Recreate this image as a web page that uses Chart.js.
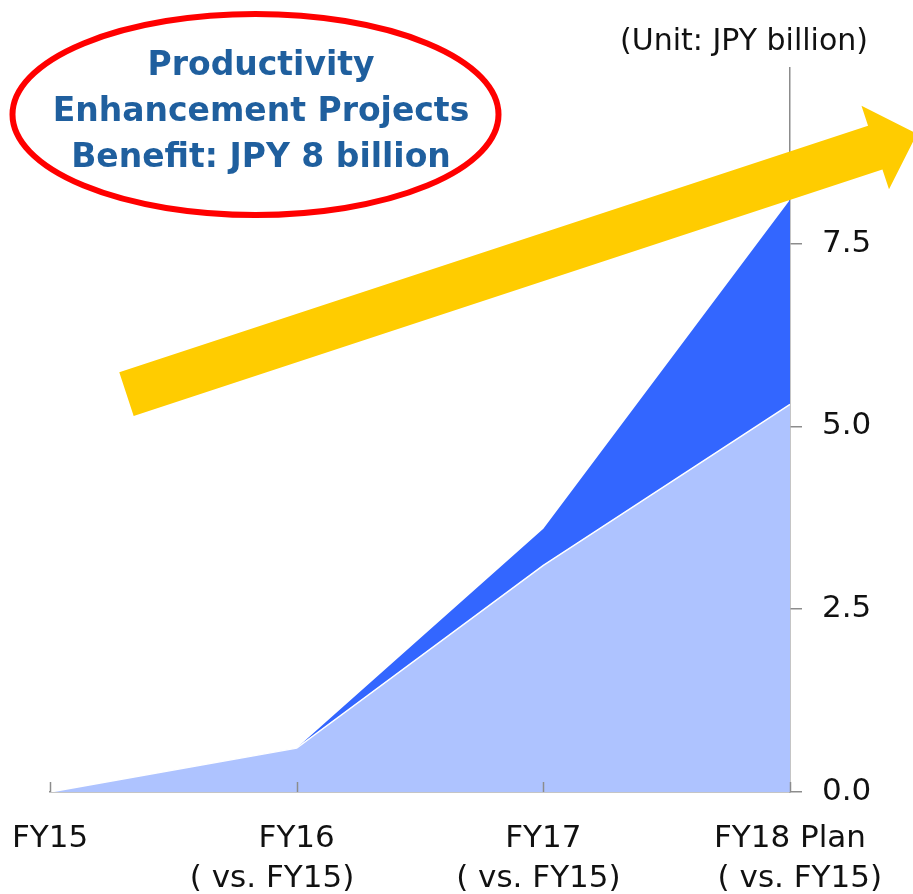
<!DOCTYPE html>
<html>
<head>
<meta charset="utf-8">
<script src="https://cdn.jsdelivr.net/npm/chart.js@4"></script>
<style>
  html, body { margin: 0; padding: 0; background: #fff; }
  #wrap { position: relative; width: 913px; height: 894px; }
</style>
</head>
<body>
<div id="wrap"><canvas id="chart"></canvas></div>
<script>
// Fiscal years on the x axis (second line = comparison base)
const years = [
  ['FY15'],
  ['FY16', '( vs. FY15)     '],
  ['FY17', '( vs. FY15) '],
  ['FY18 Plan', '  ( vs. FY15)']
];
// Stacked benefit, JPY billion
const baseBenefit = [0, 0.6, 3.1, 5.3];
const addedBenefit = [0, 0, 0.5, 2.8];
const yTicks = [0, 2.5, 5, 7.5];

const headline = ['Productivity', 'Enhancement Projects', 'Benefit: JPY 8 billion'];
const unitLabel = '(Unit: JPY billion)';

// trend arrow, in axis units: [category index, value]
const arrowFrom = [0.31, 5.44];
const arrowTo = [3.515, 9.0];

const FONT = '"DejaVu Sans", Verdana, sans-serif';
const AXIS_GRAY = '#8c8c8c';

// small upward tick marks on the category axis
const innerTicks = {
  id: 'innerTicks',
  afterDatasetsDraw(chart) {
    const { ctx, scales: { x } } = chart;
    ctx.save();
    ctx.strokeStyle = AXIS_GRAY;
    ctx.lineWidth = 1.5;
    years.forEach((_, i) => {
      const px = Math.round(x.getPixelForTick(i)) + 0.5;
      ctx.beginPath();
      ctx.moveTo(px, x.top);
      ctx.lineTo(px, x.top - 10);
      ctx.stroke();
    });
    ctx.restore();
  }
};

// headline ellipse, unit note and the yellow trend arrow
const decorations = {
  id: 'decorations',
  afterDraw(chart) {
    const { ctx, scales: { x, y } } = chart;
    ctx.save();

    ctx.beginPath();
    ctx.ellipse(255.5, 114.5, 243, 100.5, 0, 0, Math.PI * 2);
    ctx.strokeStyle = '#ff0000';
    ctx.lineWidth = 6;
    ctx.stroke();

    ctx.fillStyle = '#1f5f9e';
    ctx.font = 'bold 33px ' + FONT;
    ctx.textAlign = 'center';
    ctx.textBaseline = 'alphabetic';
    headline.forEach((line, i) => ctx.fillText(line, 261, 75 + i * 46));

    ctx.fillStyle = '#111';
    ctx.font = '30px ' + FONT;
    ctx.textAlign = 'right';
    ctx.fillText(unitLabel, 868, 50);

    const tx = x.getPixelForValue(arrowFrom[0]), ty = y.getPixelForValue(arrowFrom[1]);
    const hx = x.getPixelForValue(arrowTo[0]), hy = y.getPixelForValue(arrowTo[1]);
    const len = Math.hypot(hx - tx, hy - ty);
    const ang = Math.atan2(hy - ty, hx - tx);
    const shaft = 23, head = 44, headLen = 44;
    ctx.translate(tx, ty);
    ctx.rotate(ang);
    ctx.beginPath();
    ctx.moveTo(0, -shaft);
    ctx.lineTo(len - headLen, -shaft);
    ctx.lineTo(len - headLen, -head);
    ctx.lineTo(len, 0);
    ctx.lineTo(len - headLen, head);
    ctx.lineTo(len - headLen, shaft);
    ctx.lineTo(0, shaft);
    ctx.closePath();
    ctx.fillStyle = '#ffcc00';
    ctx.fill();

    ctx.restore();
  }
};

new Chart(document.getElementById('chart'), {
  type: 'line',
  data: {
    labels: years,
    datasets: [
      {
        label: 'Base',
        data: baseBenefit,
        fill: 'origin',
        backgroundColor: '#aec3ff',
        borderColor: '#ffffff',
        borderWidth: 1.5,
        pointRadius: 0,
        tension: 0
      },
      {
        label: 'Additional',
        data: addedBenefit,
        fill: '-1',
        backgroundColor: '#3366ff',
        borderColor: '#3366ff',
        borderWidth: 0,
        pointRadius: 0,
        tension: 0
      }
    ]
  },
  options: {
    responsive: true,
    maintainAspectRatio: false,
    animation: false,
    layout: { padding: { left: 50, top: 68, right: 0, bottom: 0 } },
    plugins: {
      legend: { display: false },
      tooltip: { enabled: false }
    },
    scales: {
      x: {
        offset: false,
        grid: { display: false },
        border: { display: true, color: AXIS_GRAY, width: 1.5 },
        ticks: {
          color: '#111',
          font: { family: FONT, size: 31, lineHeight: 40 / 31 },
          padding: 19,
          maxRotation: 0,
          autoSkip: false
        },
        afterFit(scale) {
          scale.height = 102;
          // labels may overhang the plot edges; keep the plot box fixed
          scale.paddingLeft = 0;
          scale.paddingRight = 0;
        }
      },
      y: {
        position: 'right',
        stacked: true,
        min: 0,
        max: 9.9,
        bounds: 'data',
        grid: { drawOnChartArea: false, drawTicks: true, tickLength: 12, color: AXIS_GRAY, lineWidth: 1.5 },
        border: { display: true, color: AXIS_GRAY, width: 1.5 },
        afterBuildTicks(scale) { scale.ticks = yTicks.map(v => ({ value: v })); },
        ticks: {
          color: '#111',
          font: { family: FONT, size: 31 },
          padding: 20,
          callback: v => v.toFixed(1)
        },
        afterFit(scale) { scale.width = 123; }
      }
    }
  },
  plugins: [innerTicks, decorations]
});
</script>
</body>
</html>
